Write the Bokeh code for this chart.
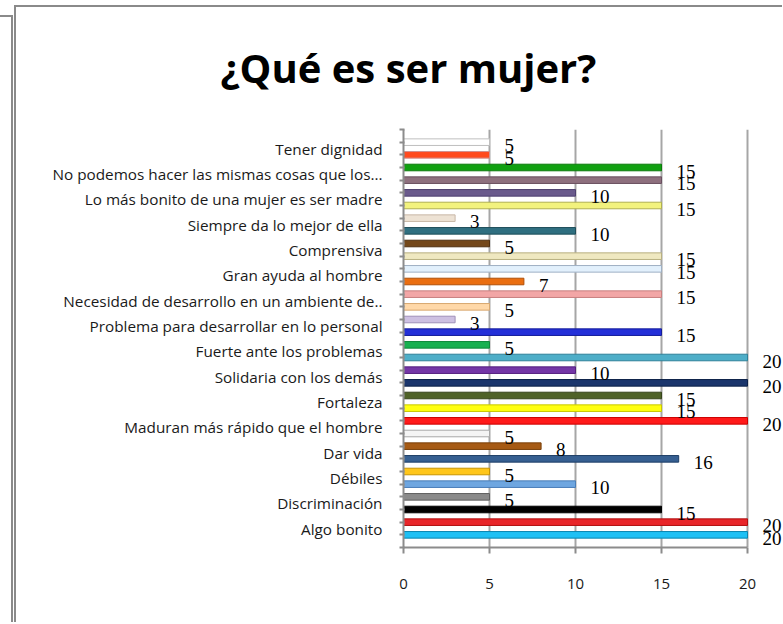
from bokeh.plotting import figure
from bokeh.models import ColumnDataSource, Range1d, FixedTicker, LabelSet
from bokeh.transform import dodge
from bokeh.embed import file_html
from bokeh.resources import INLINE

# ---- data (top to bottom as in the picture) ----
categories = [
    "Tener dignidad",
    "No podemos hacer las mismas cosas que los...",
    "Lo más bonito de una mujer es ser madre",
    "Siempre da lo mejor de ella",
    "Comprensiva",
    "Gran ayuda al hombre",
    "Necesidad de desarrollo en un ambiente de..",
    "Problema para desarrollar en lo personal",
    "Fuerte ante los problemas",
    "Solidaria con los demás",
    "Fortaleza",
    "Maduran más rápido que el hombre",
    "Dar vida",
    "Débiles",
    "Discriminación",
    "Algo bonito",
]
# upper bar and lower bar of each category
values_upper = [5, 15, 10, 3, 5, 15, 15, 3, 5, 10, 15, 20, 8, 5, 5, 20]
values_lower = [5, 15, 15, 10, 15, 7, 5, 15, 20, 20, 15, 5, 16, 10, 15, 20]

colors_upper = ["#ffffff", "#10a010", "#6a5a8c", "#ede2d4", "#74481a", "#e2f0fc",
                "#f2a6a6", "#cdc0e2", "#18b050", "#7436a6", "#4f6228", "#ff1a1a",
                "#a65a14", "#ffc61a", "#8a8a8a", "#e8262a"]
lines_upper = ["#bfbfbf", "#0a7a0a", "#4e4070", "#c8b8a8", "#4e2e0e", "#9fb0c4",
               "#c88080", "#9f90b8", "#0e8a3a", "#552080", "#35431a", "#cc0000",
               "#7a400a", "#c89400", "#606060", "#b01010"]
colors_lower = ["#ff4a1e", "#8e707e", "#f2f27e", "#2f6f80", "#efe8c0", "#ea6e10",
                "#ffd8a8", "#2430d8", "#4eaec8", "#1a356c", "#ffff10", "#f4f4f4",
                "#365f91", "#6ea6e0", "#000000", "#1ec0f4"]
lines_lower = ["#d09090", "#6a5060", "#b0b050", "#1e4e5a", "#b8b080", "#b04e06",
               "#d8a870", "#141c9a", "#2e8098", "#0c2048", "#c8c800", "#a8a8a8",
               "#1e3e66", "#4a7eb8", "#000000", "#0a86b0"]

x_ticks = [0, 5, 10, 15, 20]
x_max = 20
title_text = "¿Qué es ser mujer?"

# ---- build table ----
pos, vals, fills, lines = [], [], [], []
for i in range(len(categories)):
    pos += [2 * i + 1, 2 * i + 2]
    vals += [values_upper[i], values_lower[i]]
    fills += [colors_upper[i], colors_lower[i]]
    lines += [lines_upper[i], lines_lower[i]]
src = ColumnDataSource(dict(pos=pos, value=vals, fill=fills, line=lines,
                            label=[str(v) for v in vals]))

W, H = 782, 622
BL, BT, BB = 403, 129, 75
px_per_unit = 17.2
n_slots = 2 * len(categories) + 1
p = figure(width=W, height=H, output_backend="svg", toolbar_location=None,
           x_range=Range1d(0, (W - BL) / px_per_unit), y_range=Range1d(n_slots, 0),
           min_border_left=BL, min_border_right=0, min_border_top=BT,
           min_border_bottom=BB)
p.outline_line_color = None
p.background_fill_color = "white"
p.border_fill_color = None

# decorative chart-area frame lines (page background of the figure element)
g = "linear-gradient(#8a8a8a,#8a8a8a)"
p.styles = {
    "background-color": "white",
    "background-image": ", ".join([g] * 4),
    "background-repeat": "no-repeat",
    "background-position": "14px 5px, 14px 5px, 11px 15px, 0px 15px",
    "background-size": "2px 100%, 100% 2px, 2px 100%, 13px 2px",
}

# title
p.title.text = title_text
p.title.text_font = "Open Sans"
p.title.text_font_style = "bold"
p.title.text_font_size = "40px"
p.title.text_color = "#000000"
p.title.align = "left"
p.title.vertical_align = "top"
p.title.offset = 220 - BL
p.title.standoff = 66

p.hbar(y="pos", left=0, right="value", height=0.52, source=src,
       fill_color="fill", line_color="line", line_width=1)

# x axis
p.xaxis.ticker = FixedTicker(ticks=x_ticks)
p.xaxis.bounds = (0, x_max)
p.xaxis.axis_line_color = "#8c8c8c"
p.xaxis.axis_line_width = 2
p.xaxis.major_tick_line_color = "#8c8c8c"
p.xaxis.major_tick_line_width = 2
p.xaxis.major_tick_out = 6
p.xaxis.major_tick_in = 0
p.xaxis.minor_tick_line_color = None
p.xaxis.major_label_text_font = "Open Sans"
p.xaxis.major_label_text_font_size = "15px"
p.xaxis.major_label_text_color = "#1a1a1a"
p.xaxis.major_label_standoff = 25

p.xgrid.ticker = FixedTicker(ticks=x_ticks[1:])
p.xgrid.grid_line_color = "#a6a6a6"
p.xgrid.grid_line_width = 2
p.ygrid.grid_line_color = None

# y axis
label_ticks = [2 * i + 1.5 for i in range(len(categories))]
p.yaxis.ticker = FixedTicker(ticks=label_ticks, minor_ticks=list(range(n_slots + 1)))
p.yaxis.major_label_overrides = {t: c for t, c in zip(label_ticks, categories)}
p.yaxis.axis_line_color = "#8c8c8c"
p.yaxis.axis_line_width = 2
p.yaxis.major_tick_line_color = None
p.yaxis.major_tick_out = 0
p.yaxis.major_tick_in = 0
p.yaxis.minor_tick_line_color = "#8c8c8c"
p.yaxis.minor_tick_line_width = 2
p.yaxis.minor_tick_out = 4
p.yaxis.minor_tick_in = 1
p.yaxis.major_label_text_font = "Open Sans"
p.yaxis.major_label_text_font_size = "15.3px"
p.yaxis.major_label_text_color = "#1a1a1a"
p.yaxis.major_label_standoff = 17

# value labels
p.add_layout(LabelSet(x="value", y=dodge("pos", 0.3, range=p.y_range), text="label",
                      source=src, x_offset=15, text_align="left",
                      text_baseline="middle", text_font="Liberation Serif",
                      text_font_size="19px", text_color="#000000"))

open("out.html", "w").write(file_html(p, INLINE))
